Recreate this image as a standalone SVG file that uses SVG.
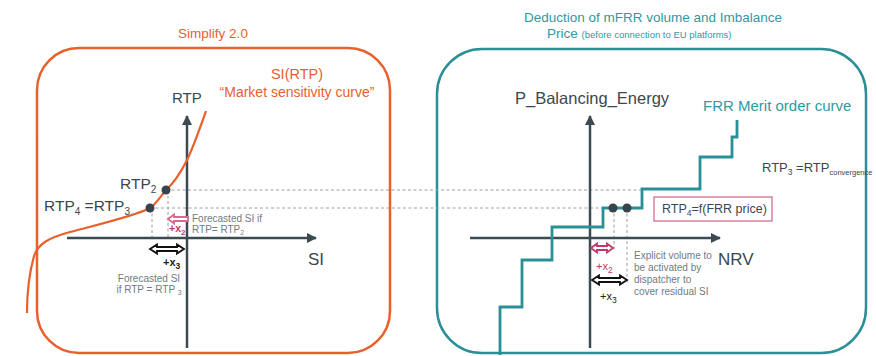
<svg xmlns="http://www.w3.org/2000/svg" width="876" height="356" viewBox="0 0 876 356">
<style>
text{font-family:"Liberation Sans",Arial,sans-serif}
.or{fill:#e8602c}
.te{fill:#2f9aa0}
.dk{fill:#3b474e}
.gr{fill:#6f7c82;font-size:10px}
.pk{fill:#c2386b}
.axis{stroke:#3c4a52;stroke-width:2.5;fill:none}
.dash{stroke:#9aa0a4;stroke-width:1;stroke-dasharray:3 2.5;fill:none}
.dot{fill:#37444b}
.harr{fill:#fff;stroke-width:1.8;stroke-linejoin:miter}
</style>
<defs>
<marker id="ah" viewBox="0 0 10 10" refX="9" refY="5" markerWidth="4" markerHeight="4" orient="auto-start-reverse">
<path d="M0,0L10,5L0,10z" fill="#3c4a52"/>
</marker>
</defs>

<g id="left-panel">
<rect x="37" y="48" width="353" height="305" rx="42" fill="none" stroke="#e8602c" stroke-width="2.5"/>
<text x="213" y="38" text-anchor="middle" font-size="13.5" class="or">Simplify 2.0</text>
<text x="297" y="79" text-anchor="middle" font-size="14.5" class="or">SI(RTP)</text>
<text x="297" y="97" text-anchor="middle" font-size="14" class="or">“Market sensitivity curve”</text>
<text x="172" y="103" font-size="15" class="dk">RTP</text>
<text x="308" y="265" font-size="17" class="dk">SI</text>
</g>

<g id="right-panel">
<rect x="437" y="49" width="429" height="304" rx="45" fill="none" stroke="#2a8f96" stroke-width="2.5"/>
<text x="653" y="22" text-anchor="middle" font-size="13.5" class="te">Deduction of mFRR volume and Imbalance</text>
<text x="547" y="38" font-size="13.5" class="te">Price <tspan font-size="9.5">(before connection to EU platforms)</tspan></text>
<text x="515" y="104" font-size="16.5" class="dk">P_Balancing_Energy</text>
<text x="703" y="111" font-size="15" class="te">FRR Merit order curve</text>
<text x="718" y="265" font-size="17" class="dk">NRV</text>
</g>

<g id="connectors">
<path class="dash" d="M166,190H642M150,208H603M152,208V238M168,190V238M614,208V250M627,208V283"/>
<path class="axis" d="M187,348V116" marker-end="url(#ah)"/>
<path class="axis" d="M67,238H316" marker-end="url(#ah)"/>
<path class="axis" d="M590,348V116" marker-end="url(#ah)"/>
<path class="axis" d="M470,238H720" marker-end="url(#ah)"/>
<path d="M206,111C200,128 193,148 187,160C181,172 174,183 166,190C160,197 156,204 150,208C135,216 100,224 70,232C48,238 38,244 34,256C29,274 27,295 27,313" fill="none" stroke="#e8602c" stroke-width="2.2"/>
<path d="M500,355V307H522V260H552V227H603V208H642V189H700V157H732V137H737V120" fill="none" stroke="#2a8f96" stroke-width="2.8"/>
</g>

<g id="points">
<circle class="dot" cx="166" cy="190" r="4.5"/>
<circle class="dot" cx="150" cy="208" r="4.5"/>
<circle class="dot" cx="613" cy="208" r="4.5"/>
<circle class="dot" cx="627" cy="208" r="4.5"/>
</g>

<g id="left-labels">
<text x="120" y="189" font-size="15.5" class="dk">RTP<tspan font-size="10" dy="4">2</tspan></text>
<text x="44" y="211" font-size="15.5" class="dk">RTP<tspan font-size="10" dy="4">4</tspan><tspan dy="-4"> =RTP</tspan><tspan font-size="10" dy="4">3</tspan></text>
<polygon class="harr" stroke="#d46a8e" stroke-width="1.4" points="168,219 174,214.5 174,217 188,217 188,221 174,221 174,223.5"/>
<text x="169" y="232" font-size="10.5" font-weight="bold" class="pk">+x<tspan font-size="8" dy="3">2</tspan></text>
<text x="192" y="222" class="gr">Forecasted SI if</text>
<text x="192" y="233" class="gr">RTP= RTP<tspan font-size="7" dy="2">2</tspan></text>
<polygon class="harr" stroke="#111" points="150,249 157,244.5 157,247 177,247 177,244.5 184,249 177,253.5 177,251 157,251 157,253.5"/>
<text x="163" y="266" font-size="11" font-weight="bold" fill="#222">+x<tspan font-size="8.5" dy="3">3</tspan></text>
<text x="149" y="282" text-anchor="middle" class="gr">Forecasted SI</text>
<text x="149" y="293" text-anchor="middle" class="gr">if RTP = RTP <tspan font-size="7" dy="2">3</tspan></text>
</g>

<g id="right-labels">
<text x="762" y="172" font-size="13" class="dk">RTP<tspan font-size="8.5" dy="3">3</tspan><tspan dy="-3"> =RTP</tspan><tspan font-size="7.5" dy="3">convergence</tspan></text>
<g id="rtp4-box">
<rect x="654" y="197" width="118" height="24" fill="#fff" stroke="#d0708c" stroke-width="1.3"/>
<text x="662" y="213" font-size="12.5" class="dk">RTP<tspan font-size="8.5" dy="3">4</tspan><tspan dy="-3">=f(FRR price)</tspan></text>
</g>
<polygon class="harr" stroke="#c2386b" stroke-width="1.5" points="591,248 597,243.5 597,246 607,246 607,243.5 613,248 607,252.5 607,250 597,250 597,252.5"/>
<text x="596" y="270" font-size="11" class="pk">+x<tspan font-size="8.5" dy="3">2</tspan></text>
<polygon class="harr" stroke="#111" points="592,280 599,275.5 599,278 620,278 620,275.5 627,280 620,284.5 620,282 599,282 599,284.5"/>
<text x="600" y="300" font-size="11" fill="#222">+x<tspan font-size="8.5" dy="3">3</tspan></text>
<text x="634" y="259" class="gr">Explicit volume to</text>
<text x="634" y="271" class="gr">be activated by</text>
<text x="634" y="283" class="gr">dispatcher to</text>
<text x="634" y="295" class="gr">cover residual SI</text>
</g>
</svg>
